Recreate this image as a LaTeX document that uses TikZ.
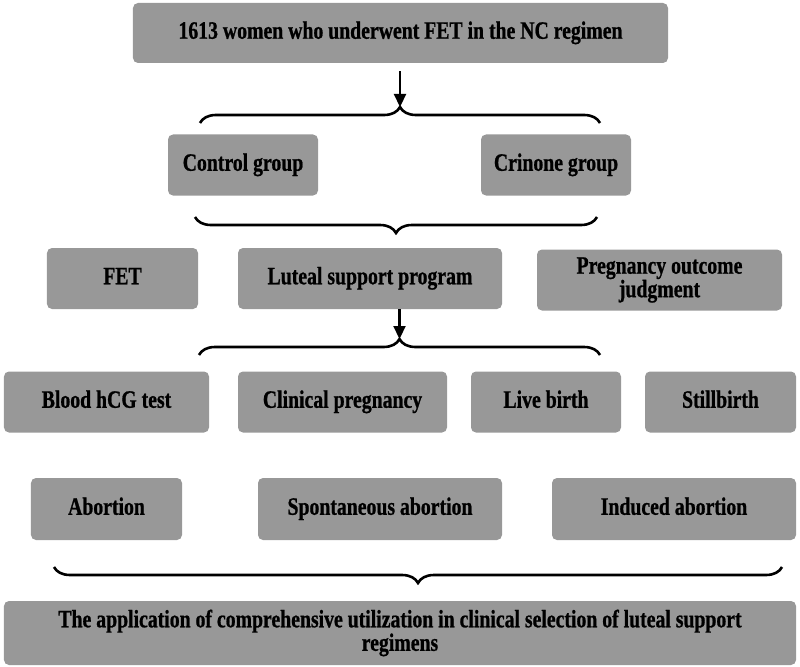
\documentclass[tikz,border=0pt]{standalone}
\usepackage{fontspec}
\setmainfont{Liberation Serif}[FakeStretch=0.79, BoldFeatures={FakeBold=0.8}]
\usetikzlibrary{arrows.meta,decorations.pathreplacing}
\definecolor{boxgray}{RGB}{152,152,152}
\tikzset{
  gbox/.style={rectangle, rounded corners=5bp, fill=boxgray, draw=none,
    inner sep=0pt, align=center, text=black,
    font=\fontsize{25bp}{23.5bp}\selectfont\bfseries},
  one/.style={gbox, text height=16.5bp, text depth=5bp},
  brc/.style={draw=black, line width=2.6bp, decorate,
    decoration={brace, amplitude=16bp, aspect=0.5}},
  arr/.style={draw=black, line width=2.2bp, -{Triangle[length=13bp,width=12bp]}}
}
\begin{document}
\begin{tikzpicture}[x=1bp,y=-1bp]
\useasboundingbox (0,0) rectangle (800,667);
% row 1
\node[one, minimum width=535bp, minimum height=60bp] (top) at (400.5,33) {1613 women who underwent FET in the NC regimen};
% row 2
\node[one, minimum width=150bp, minimum height=61bp] (ctrl) at (243,165) {Control group};
\node[one, minimum width=150bp, minimum height=61bp] (crin) at (556,165) {Crinone group};
% row 3
\node[one, minimum width=151bp, minimum height=61bp] (fet) at (122.5,278.5) {FET};
\node[one, minimum width=264bp, minimum height=61bp] (lut) at (370,278.5) {Luteal support program};
\node[gbox, minimum width=245bp, minimum height=61bp] (preg) at (659.5,280) {Pregnancy outcome\\judgment};
% row 4
\node[one, minimum width=205bp, minimum height=61bp] (hcg) at (106.5,402) {Blood hCG test};
\node[one, minimum width=209bp, minimum height=61bp] (clin) at (342.5,402) {Clinical pregnancy};
\node[one, minimum width=150bp, minimum height=61bp] (live) at (546,402) {Live birth};
\node[one, minimum width=151bp, minimum height=61bp] (still) at (720.5,402) {Stillbirth};
% row 5
\node[one, minimum width=151bp, minimum height=62bp] (abo) at (106.5,509) {Abortion};
\node[one, minimum width=244bp, minimum height=62bp] (spon) at (380,509) {Spontaneous abortion};
\node[one, minimum width=244bp, minimum height=62bp] (ind) at (674,509) {Induced abortion};
% final
\node[gbox, minimum width=792bp, minimum height=64bp] (fin) at (400,633) {The application of comprehensive utilization in clinical selection of luteal support\\regimens};
% braces
\coordinate (b1l) at (200,123); \coordinate (b1r) at (600,123); \coordinate (b1t) at (400,107);
\coordinate (b2l) at (195,217); \coordinate (b2r) at (597,217);
\coordinate (b3l) at (199,355); \coordinate (b3r) at (600,355); \coordinate (b3t) at (399.5,339);
\coordinate (b4l) at (54,567); \coordinate (b4r) at (782,567);
\draw[brc] (b1l) -- (b1r);
\draw[brc, decoration={mirror}] (b2l) -- (b2r);
\draw[brc] (b3l) -- (b3r);
\draw[brc, decoration={mirror}] (b4l) -- (b4r);
% arrows
\draw[arr, shorten <=8bp] (top.south -| b1t) -- (b1t);
\draw[arr] (lut.south -| b3t) -- (b3t);
\end{tikzpicture}
\end{document}
